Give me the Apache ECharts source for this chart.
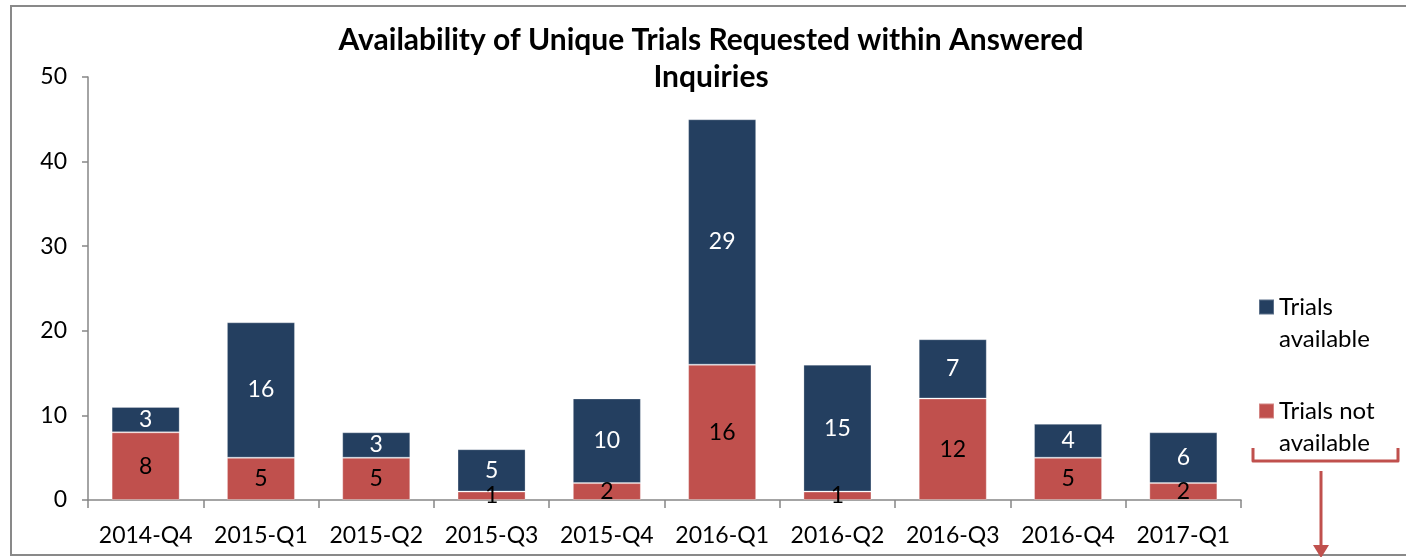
<!DOCTYPE html>
<html>
<head>
<meta charset="utf-8">
<script src="https://cdn.jsdelivr.net/npm/echarts@6/dist/echarts.min.js"></script>
<style>
html,body{margin:0;padding:0;background:#fff;}
#chart{width:1406px;height:557px;}
</style>
</head>
<body>
<div id="chart"></div>
<script>
const categories = ['2014-Q4','2015-Q1','2015-Q2','2015-Q3','2015-Q4','2016-Q1','2016-Q2','2016-Q3','2016-Q4','2017-Q1'];
const trialsNotAvailable = [8,5,5,1,2,16,1,12,5,2];
const trialsAvailable = [3,16,3,5,10,29,15,7,4,6];
const yTicks = {min:0, max:50, interval:10};
const titleText = 'Availability of Unique Trials Requested within Answered\nInquiries';

const FONT = 'Lato';
const chart = echarts.init(document.getElementById('chart'));
chart.setOption({
  animation:false,
  backgroundColor:'#fff',
  title:{
    text:titleText,
    left:706, textAlign:'center', top:17,
    textStyle:{fontFamily:FONT,fontSize:30,fontWeight:'bold',color:'#000',lineHeight:37}
  },
  legend:{
    orient:'vertical',
    left:1253, top:254,
    itemWidth:15, itemHeight:15, itemGap:8,
    icon:'rect',
    data:['Trials available','Trials not available'],
    formatter:function(n){ return n==='Trials available' ? '\nTrials\navailable' : '\nTrials not\navailable'; },
    textStyle:{fontFamily:FONT,fontSize:24,color:'#000',lineHeight:32}
  },
  grid:{left:88,right:165,top:77,bottom:57,containLabel:false},
  xAxis:{
    type:'category', data:categories,
    axisLine:{lineStyle:{color:'#868686',width:1.5}},
    axisTick:{show:true,inside:false,length:8,interval:0,lineStyle:{color:'#868686',width:1.5}},
    axisLabel:{fontFamily:FONT,fontSize:23,color:'#000',margin:24,interval:0},
    splitLine:{show:false}
  },
  yAxis:{
    type:'value', min:yTicks.min, max:yTicks.max, interval:yTicks.interval,
    axisLine:{show:true,lineStyle:{color:'#868686',width:1.5}},
    axisTick:{show:true,inside:false,length:6,lineStyle:{color:'#868686',width:1.5}},
    axisLabel:{fontFamily:FONT,fontSize:23,color:'#000',margin:21},
    splitLine:{show:false}
  },
  series:[
    {name:'Trials not available',type:'bar',stack:'t',data:trialsNotAvailable,barWidth:'59%',
     itemStyle:{color:'#C0504D',borderColor:'rgba(255,255,255,0.3)',borderWidth:1},
     label:{show:true,position:'inside',fontFamily:FONT,fontSize:23,color:'#000'}},
    {name:'Trials available',type:'bar',stack:'t',data:trialsAvailable,barWidth:'59%',
     itemStyle:{color:'#243F60',borderColor:'rgba(255,255,255,0.25)',borderWidth:1},
     label:{show:true,position:'inside',fontFamily:FONT,fontSize:23,color:'#fff'}}
  ],
  graphic:[
    {type:'rect',shape:{x:11,y:6,width:1420,height:549},style:{fill:'none',stroke:'#898989',lineWidth:2},silent:true,z:-1},
    {type:'polyline',shape:{points:[[1253,448],[1253,461],[1398,461],[1398,448]]},
     style:{fill:'none',stroke:'#C0504D',lineWidth:3,lineJoin:'round'},silent:true},
    {type:'line',shape:{x1:1321,y1:471,x2:1321,y2:547},style:{stroke:'#C0504D',lineWidth:3},silent:true},
    {type:'polygon',shape:{points:[[1313,545],[1329,545],[1321,558]]},style:{fill:'#C0504D'},silent:true}
  ]
});
</script>
</body>
</html>
